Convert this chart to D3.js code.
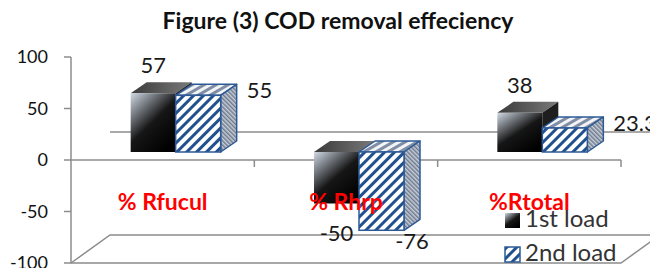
<!DOCTYPE html>
<html lang="en">
  <head>
    <meta charset="utf-8">
    <title>COD removal effeciency</title>
    <script type="text/javascript" src="https://cdn.jsdelivr.net/npm/d3@7"></script>
    <style type="text/css">
      body { margin: 0; background: #fff; }
      svg { display: block; font-family: Lato, "Open Sans", sans-serif; }
    </style>
  </head>
  <body>
    <script type="text/javascript">

      //Width and height
      var w = 650;
      var h = 268;

      //Data
      var categories = ["% Rfucul", "% Rhrp", "%Rtotal"];
      var seriesNames = ["1st load", "2nd load"];
      var load1 = [57, -50, 38];
      var load2 = [55, -76, 23.3];
      var yTicks = [100, 50, 0, -50, -100];

      //Scales
      var y = d3.scaleLinear().domain([-100, 100]).range([263, 57]);
      var x = d3.scaleBand().domain(categories).range([71, 621]);

      //3d look
      var depth = { dx: 39, dy: -28 };   // whole chart depth
      var barDepth = { dx: 16, dy: -11 };
      var barShift = 13;    // bars sit a bit right of the band centre
      var barLift = -8;     // bars stand on the middle of the 0 plane
      var barW = 45;
      var gridColor = "#8c8c8c";

      function yBar(v) { return y(v) + barLift; }

      var svg = d3.select("body")
                  .append("svg")
                  .attr("width", w)
                  .attr("height", h);

      var defs = svg.append("defs");

      //Black bar gradients
      var gFront = defs.append("linearGradient").attr("id", "blackFront")
                       .attr("x1", 0).attr("y1", 0).attr("x2", 0.75).attr("y2", 1);
      gFront.append("stop").attr("offset", 0).attr("stop-color", "#d3dae4");
      gFront.append("stop").attr("offset", 0.2).attr("stop-color", "#8d939b");
      gFront.append("stop").attr("offset", 0.55).attr("stop-color", "#161616");
      gFront.append("stop").attr("offset", 1).attr("stop-color", "#000");

      var gTop = defs.append("linearGradient").attr("id", "blackTop")
                     .attr("x1", 0).attr("y1", 0).attr("x2", 1).attr("y2", 0);
      gTop.append("stop").attr("offset", 0).attr("stop-color", "#3a3a3a");
      gTop.append("stop").attr("offset", 1).attr("stop-color", "#7a7a7a");

      //Hatch patterns
      var hatch = defs.append("pattern").attr("id", "hatch")
                      .attr("patternUnits", "userSpaceOnUse")
                      .attr("width", 7).attr("height", 7)
                      .attr("patternTransform", "rotate(45)");
      hatch.append("rect").attr("width", 7).attr("height", 7).attr("fill", "#fff");
      hatch.append("rect").attr("width", 3).attr("height", 7).attr("fill", "#21508e");

      var hatchTop = defs.append("pattern").attr("id", "hatchTop")
                         .attr("patternUnits", "userSpaceOnUse")
                         .attr("width", 6).attr("height", 6)
                         .attr("patternTransform", "rotate(60)");
      hatchTop.append("rect").attr("width", 6).attr("height", 6).attr("fill", "#f2f4f7");
      hatchTop.append("rect").attr("width", 3).attr("height", 6).attr("fill", "#7f8ea3");

      var hatchSide = defs.append("pattern").attr("id", "hatchSide")
                          .attr("patternUnits", "userSpaceOnUse")
                          .attr("width", 3).attr("height", 3)
                          .attr("patternTransform", "rotate(-45)");
      hatchSide.append("rect").attr("width", 3).attr("height", 3).attr("fill", "#c9ced6");
      hatchSide.append("rect").attr("width", 1.5).attr("height", 3).attr("fill", "#6d7b90");

      var styles = [
        { front: "url(#blackFront)", top: "url(#blackTop)", side: "#1e1e1e", stroke: "none" },
        { front: "url(#hatch)", top: "url(#hatchTop)", side: "url(#hatchSide)", stroke: "#2d5a96" }
      ];

      //Walls and floor
      var grid = svg.append("g")
                    .attr("fill", "none")
                    .attr("stroke", gridColor)
                    .attr("stroke-width", 1.5);

      var x0 = x.range()[0], x1 = x.range()[1];

      //back edge of the 0 plane
      grid.append("line")
          .attr("x1", x0 + depth.dx).attr("y1", y(0) + depth.dy)
          .attr("x2", x1 + depth.dx).attr("y2", y(0) + depth.dy);

      //floor at -100
      grid.append("path")
          .attr("d", d3.line()([
            [x0, y(-100)], [x0 + depth.dx, y(-100) + depth.dy],
            [x1 + depth.dx, y(-100) + depth.dy]
          ]));
      grid.append("path")
          .attr("d", d3.line()([
            [x0, y(-100)], [x1, y(-100)], [x1 + depth.dx, y(-100) + depth.dy]
          ]));

      //Y axis
      var yAxis = svg.append("g").attr("class", "y-axis");
      yAxis.append("line")
           .attr("x1", x0).attr("x2", x0)
           .attr("y1", y(100)).attr("y2", y(-100))
           .attr("stroke", gridColor).attr("stroke-width", 1.5);
      yAxis.selectAll(".tick")
           .data(yTicks)
           .enter()
           .append("line")
           .attr("x1", x0 - 7).attr("x2", x0)
           .attr("y1", function(d) { return y(d); })
           .attr("y2", function(d) { return y(d); })
           .attr("stroke", gridColor).attr("stroke-width", 1.5);
      yAxis.selectAll("text")
           .data(yTicks)
           .enter()
           .append("text")
           .attr("x", x0 - 23)
           .attr("y", function(d) { return y(d); })
           .attr("dy", "0.35em")
           .attr("text-anchor", "end")
           .attr("font-size", 18)
           .attr("fill", "#111")
           .text(function(d) { return d; });

      //Front edge of the 0 plane (category axis)
      grid.append("line")
          .attr("x1", x0).attr("y1", y(0))
          .attr("x2", x1).attr("y2", y(0));
      grid.selectAll(".cat-tick")
          .data(categories)
          .enter()
          .append("line")
          .attr("x1", function(d) { return x(d) + x.bandwidth(); })
          .attr("x2", function(d) { return x(d) + x.bandwidth(); })
          .attr("y1", y(0))
          .attr("y2", y(0) + 7);

      //Bars as boxes
      var bars = [];
      categories.forEach(function(c, i) {
        [load1[i], load2[i]].forEach(function(v, s) {
          var bx = x(c) + x.bandwidth() / 2 + barShift - barW + s * barW;
          var top = Math.min(yBar(v), yBar(0));
          var bottom = Math.max(yBar(v), yBar(0));
          bars.push({ cat: c, series: s, value: v, x: bx, top: top, bottom: bottom });
        });
      });

      var boxes = svg.selectAll(".box")
                     .data(bars)
                     .enter()
                     .append("g")
                     .attr("class", "box");

      boxes.append("polygon")
           .attr("points", function(d) {
             return [[d.x, d.top], [d.x + barDepth.dx, d.top + barDepth.dy],
                     [d.x + barW + barDepth.dx, d.top + barDepth.dy], [d.x + barW, d.top]].join(" ");
           })
           .attr("fill", function(d) { return styles[d.series].top; })
           .attr("stroke", function(d) { return styles[d.series].stroke; })
           .attr("stroke-width", 1.5)
           .attr("stroke-linejoin", "round");

      boxes.append("polygon")
           .attr("points", function(d) {
             return [[d.x + barW, d.top], [d.x + barW + barDepth.dx, d.top + barDepth.dy],
                     [d.x + barW + barDepth.dx, d.bottom + barDepth.dy], [d.x + barW, d.bottom]].join(" ");
           })
           .attr("fill", function(d) { return styles[d.series].side; })
           .attr("stroke", function(d) { return styles[d.series].stroke; })
           .attr("stroke-width", 1.5)
           .attr("stroke-linejoin", "round");

      boxes.append("rect")
           .attr("x", function(d) { return d.x; })
           .attr("y", function(d) { return d.top; })
           .attr("width", barW)
           .attr("height", function(d) { return d.bottom - d.top; })
           .attr("fill", function(d) { return styles[d.series].front; })
           .attr("stroke", function(d) { return styles[d.series].stroke; })
           .attr("stroke-width", 1.5);

      //Category labels
      svg.selectAll(".cat-label")
         .data(categories)
         .enter()
         .append("text")
         .attr("class", "cat-label")
         .attr("x", function(d) { return x(d) + x.bandwidth() / 2; })
         .attr("y", y(0) + 50)
         .attr("text-anchor", "middle")
         .attr("font-size", 23)
         .attr("font-weight", "bold")
         .attr("fill", "#ff0000")
         .text(function(d) { return d; });

      //Value labels
      svg.selectAll(".val-label")
         .data(bars)
         .enter()
         .append("text")
         .attr("class", "val-label")
         .attr("font-size", 22)
         .attr("fill", "#1a1a1a")
         .attr("text-anchor", function(d) {
           return (d.series === 1 && d.value > 0) ? "start" : "middle";
         })
         .attr("x", function(d) {
           if (d.series === 0) return d.x + barW / 2;
           if (d.value > 0) return d.x + barW + barDepth.dx + 10;
           return d.x + barW + 8;
         })
         .attr("y", function(d) {
           if (d.series === 0) return d.value > 0 ? d.top + barDepth.dy - 9 : d.bottom + 37;
           return d.value > 0 ? d.top + 3 : d.bottom + 19;
         })
         .text(function(d) { return d.value; });

      //Legend
      var legend = svg.selectAll(".legend")
                      .data(seriesNames)
                      .enter()
                      .append("g")
                      .attr("class", "legend")
                      .attr("transform", function(d, i) { return "translate(505," + (213 + i * 34) + ")"; });
      legend.append("rect")
            .attr("width", 15).attr("height", 15)
            .attr("fill", function(d, i) { return styles[i].front; })
            .attr("stroke", function(d, i) { return styles[i].stroke; })
            .attr("stroke-width", 1.5);
      legend.append("text")
            .attr("x", 20)
            .attr("y", 14)
            .attr("font-size", 24)
            .attr("fill", "#333")
            .text(function(d) { return d; });

      //Title
      svg.append("text")
         .attr("x", 338)
         .attr("y", 29)
         .attr("text-anchor", "middle")
         .attr("font-size", 23)
         .attr("font-weight", "bold")
         .attr("fill", "#111")
         .text("Figure (3) COD removal effeciency");

    </script>
  </body>
</html>
